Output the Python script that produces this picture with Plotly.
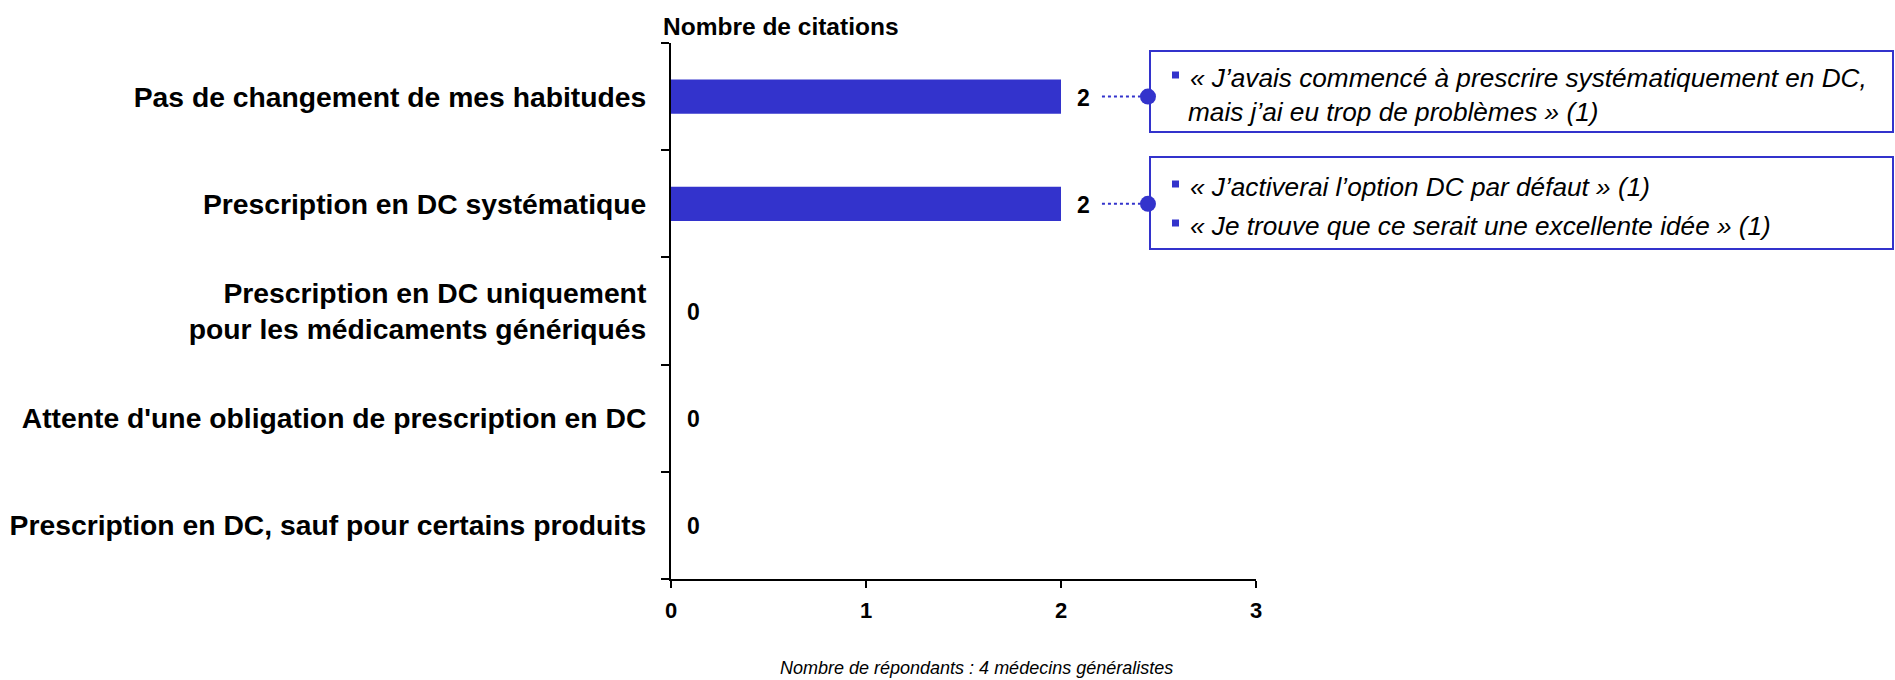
import plotly.graph_objects as go

# Data
categories = [
    "Pas de changement de mes habitudes",
    "Prescription en DC systématique",
    "Prescription en DC uniquement<br>pour les médicaments génériqués",
    "Attente d'une obligation de prescription en DC",
    "Prescription en DC, sauf pour certains produits",
]
citations = [2, 2, 0, 0, 0]
x_ticks = [0, 1, 2, 3]

# Verbatim quotes attached to the first two answers
quotes_habitudes = [
    "« J’avais commencé à prescrire systématiquement en DC,",
    "mais j’ai eu trop de problèmes » (1)",
]
quotes_systematique = [
    "« J’activerai l’option DC par défaut » (1)",
    "« Je trouve que ce serait une excellente idée » (1)",
]

axis_title = "Nombre de citations"
footnote = "Nombre de répondants : 4 médecins généralistes"

BLUE = "#3333CC"
FONT = "Liberation Sans, Arial, sans-serif"

W, H = 1895, 680
M_L, M_R, M_T, M_B = 671, 639, 43, 101
PW, PH = W - M_L - M_R, H - M_T - M_B


def xp(px):
    return (px - M_L) / PW


def yp(py):
    return (H - M_B - py) / PH


fig = go.Figure()

fig.add_trace(go.Bar(
    x=citations,
    y=categories,
    orientation="h",
    marker=dict(color=BLUE, line=dict(width=0)),
    width=0.32,
    hoverinfo="skip",
))

annotations = []
# Value labels next to each bar
for cat, v in zip(categories, citations):
    annotations.append(dict(
        x=v, y=cat, xref="x", yref="y", text=f"<b>{v}</b>",
        showarrow=False, xanchor="center", yanchor="middle", xshift=22, yshift=-1,
        font=dict(family=FONT, size=23, color="#000000"),
    ))

# Dotted connectors ending with a dot, linking bars to their quotes
CALLOUT_X = 2.446
for cat, v in zip(categories[:2], citations[:2]):
    fig.add_trace(go.Scatter(
        x=[v + 0.21, CALLOUT_X - 0.04], y=[cat, cat], mode="lines",
        line=dict(color=BLUE, width=2, dash="dot"), hoverinfo="skip",
    ))
    fig.add_trace(go.Scatter(
        x=[CALLOUT_X], y=[cat], mode="markers",
        marker=dict(color=BLUE, size=16, line=dict(width=0)), hoverinfo="skip",
    ))

shapes = []
# Quote boxes
for top, bottom in [(51, 132), (157, 249)]:
    shapes.append(dict(
        type="rect", xref="paper", yref="paper",
        x0=xp(1150), x1=xp(1893), y0=yp(bottom), y1=yp(top),
        line=dict(color=BLUE, width=2), fillcolor="white", layer="below",
    ))


def bullet(cy):
    shapes.append(dict(
        type="rect", xref="paper", yref="paper",
        x0=xp(1172), x1=xp(1179), y0=yp(cy + 3.5), y1=yp(cy - 3.5),
        line=dict(width=0), fillcolor=BLUE,
    ))


def quote_line(text, cx, cy):
    annotations.append(dict(
        x=xp(cx), y=yp(cy), xref="paper", yref="paper", text=f"<i>{text}</i>",
        showarrow=False, xanchor="left", yanchor="middle",
        font=dict(family=FONT, size=26.2, color="#000000"),
    ))


bullet(75)
quote_line(quotes_habitudes[0], 1188, 78)
quote_line(quotes_habitudes[1], 1186, 112)
bullet(184)
quote_line(quotes_systematique[0], 1188, 187)
bullet(223)
quote_line(quotes_systematique[1], 1188, 226)

annotations.append(dict(
    x=xp(661), y=yp(26), xref="paper", yref="paper", text=f"<b>{axis_title}</b>",
    showarrow=False, xanchor="left", yanchor="middle",
    font=dict(family=FONT, size=24.5, color="#000000"),
))
annotations.append(dict(
    x=xp(976), y=yp(668), xref="paper", yref="paper", text=f"<i>{footnote}</i>",
    showarrow=False, xanchor="center", yanchor="middle",
    font=dict(family=FONT, size=18, color="#000000"),
))

fig.update_layout(
    width=W, height=H,
    margin=dict(l=M_L, r=M_R, t=M_T, b=M_B, pad=0, autoexpand=False),
    paper_bgcolor="white", plot_bgcolor="white",
    showlegend=False,
    shapes=shapes,
    annotations=annotations,
    xaxis=dict(
        range=[0, 3], tickvals=x_ticks, ticktext=[f"<b>{t}</b>" for t in x_ticks],
        showline=True, linecolor="#000000", linewidth=2,
        ticks="outside", ticklen=7, tickwidth=2, tickcolor="#000000",
        ticklabelstandoff=4, automargin=False,
        showgrid=False, zeroline=False,
        tickfont=dict(family=FONT, size=22, color="#000000"),
        fixedrange=True,
    ),
    yaxis=dict(
        categoryorder="array", categoryarray=categories, autorange="reversed",
        tickvals=categories, ticktext=[f"<b>{c}</b>" for c in categories],
        tickson="boundaries",
        showline=True, linecolor="#000000", linewidth=2,
        ticks="outside", ticklen=8, tickwidth=2, tickcolor="#000000",
        ticklabelstandoff=17, automargin=False,
        showgrid=False, zeroline=False,
        tickfont=dict(family=FONT, size=28.3, color="#000000"),
        fixedrange=True,
    ),
)

fig.write_html("out.html", config={"displayModeBar": False})
